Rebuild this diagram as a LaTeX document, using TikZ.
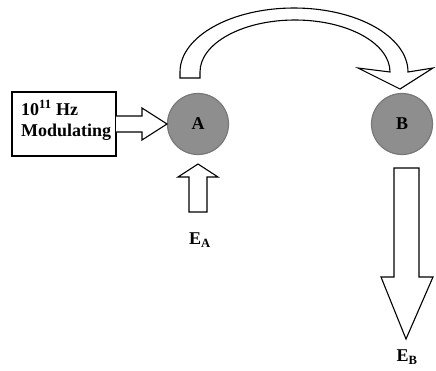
\documentclass[tikz,border=0pt]{standalone}
\usepackage{fontspec}
\setmainfont{Liberation Serif}
\begin{document}
\begin{tikzpicture}[x=1pt,y=-1pt,
  blk/.style={draw=black,line width=1.1pt,fill=white,line join=miter},
  ball/.style={circle,draw={rgb,255:red,120;green,120;blue,120},line width=1.2pt,fill={rgb,255:red,142;green,142;blue,142},minimum size=61pt,inner sep=0pt,font=\fontsize{18}{20}\selectfont\bfseries},
  lbl/.style={font=\fontsize{18}{20}\selectfont\bfseries,inner sep=0pt}]
\useasboundingbox (0,0) rectangle (436,370);
% input box
\draw[blk] (12,92) rectangle (116,156);
\node[lbl,anchor=base west] (t1) at (21,115) {10\textsuperscript{11} Hz};
\node[lbl,anchor=base west] (t2) at (21,136) {Modulating};
% balls
\node[ball] (A) at (198,124) {A};
\node[ball] (B) at (402,124) {B};
% arrow box -> A
\draw[blk] (116,116) -- (142,116) -- (142,108) -- (167,124) -- (142,140) -- (142,132) -- (116,132);
% up arrow to A
\draw[blk] (189,212) -- (189,177) -- (178,177) -- (198,164) -- (218,177) -- (207,177) -- (207,212) -- cycle;
\node[lbl] (EA) at (200,240) {E\textsubscript{A}};
% down arrow from B
\draw[blk] (394,168) -- (419,168) -- (419,277) -- (433,277) -- (406,339) -- (381,277) -- (394,277) -- cycle;
\node[lbl] (EB) at (407,357) {E\textsubscript{B}};
% curved arrow A -> B
\draw[blk] (180,78) -- (180,72) arc[start angle=180,end angle=360,x radius=114,y radius=64]
  -- (433,68) -- (400,89) -- (358,68) -- (390,72)
  arc[start angle=360,end angle=180,x radius=95,y radius=52] -- (200,78) -- cycle;
\end{tikzpicture}
\end{document}
